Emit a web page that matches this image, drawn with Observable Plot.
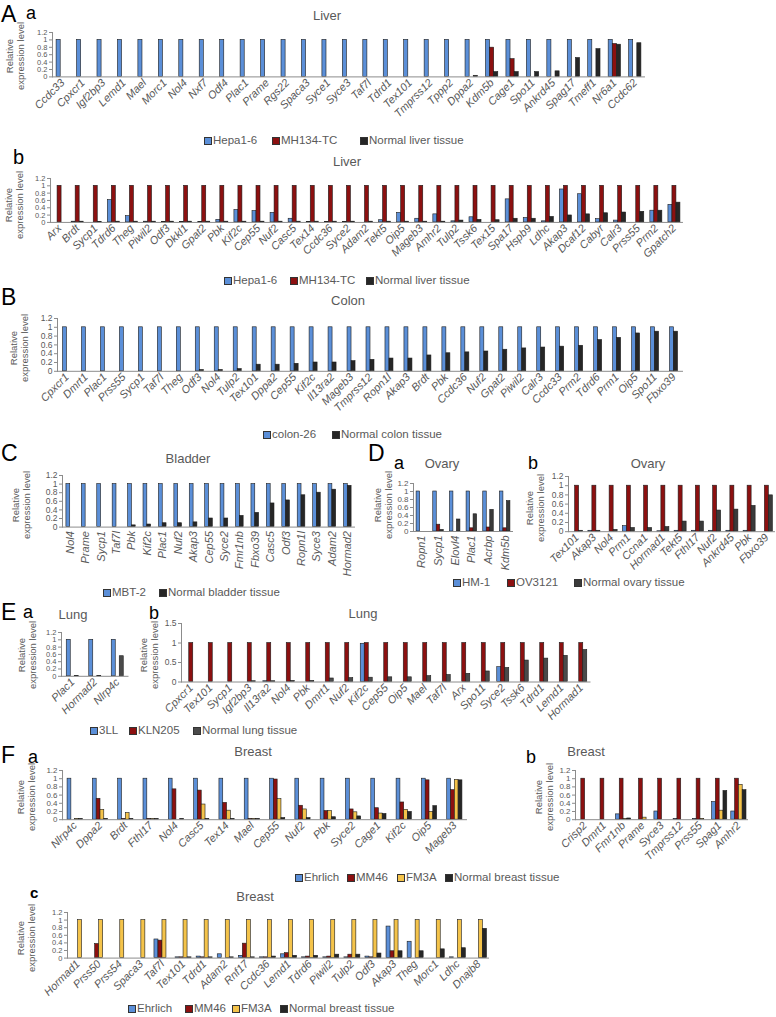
<!DOCTYPE html>
<html><head><meta charset="utf-8">
<script src="https://cdn.jsdelivr.net/npm/d3@7"></script>
<script src="https://cdn.jsdelivr.net/npm/@observablehq/plot@0.6"></script>
<style>
body{margin:0;background:#fff;}
#fig{position:relative;width:776px;height:1017px;overflow:hidden;font-family:"Liberation Sans",Arial,sans-serif;color:#595959;background:#fff;}
.abs{position:absolute;white-space:nowrap;line-height:1;}
#fig svg [aria-label="x-axis tick label"] text{font-style:italic;}
</style></head><body><div id="fig"></div>
<script>
// ---------- DATA ----------
const aaGenes = ["Ccdc33","Cpxcr1","Igf2bp3","Lemd1","Mael","Morc1","Nol4","Nxf7","Odf4","Plac1","Prame","Rgs22","Spaca3","Syce1","Syce3","Taf7l","Tdrd1","Tex101","Tmprss12","Tppp2","Dppa2","Kdm5b","Cage1","Spo11","Ankrd45","Spag17","Tmeff1","Nr6a1","Ccdc62"];
const aaHepa  = [1,1,1,1,1,1,1,1,1,1,1,1,1,1,1,1,1,1,1,1,1,1,1,1,1,1,1,1,1];
const aaMH134 = [0,0,0,0,0,0,0,0,0,0,0,0,0,0,0,0,0,0,0,0,0,0.79,0.48,0,0,0,0,0.89,0];
const aaNormal= [0,0,0,0,0,0,0,0,0,0,0,0,0,0,0,0,0,0,0,0,0.03,0.13,0.13,0.13,0.15,0.51,0.75,0.87,0.91];

const abGenes = ["Arx","Brdt","Sycp1","Tdrd6","Theg","Piwil2","Odf3","Dkkl1","Gpat2","Pbk","Kif2c","Cep55","Nuf2","Casc5","Tex14","Ccdc36","Syce2","Adam2","Tekt5","Oip5","Mageb3","Amhr2","Tulp2","Tssk6","Tex15","Spa17","Hspb9","Ldhc","Akap3","Dcaf12","Cabyr","Calr3","Prss55","Prm2","Gpatch2"];
const abHepa  = [0,0.02,0,0.61,0.17,0.02,0.01,0.01,0.01,0.07,0.34,0.31,0.26,0.1,0.01,0.01,0.01,0,0.06,0.26,0.1,0.22,0.03,0.14,0,0.63,0.12,0.03,0.9,0.77,0.09,0.05,0,0.32,0.48];
const abMH134 = [1,1,1,1,1,1,1,1,1,1,1,1,1,1,1,1,1,1,1,1,1,1,1,1,1,1,1,1,1,1,1,1,1,1,1];
const abNormal= [0,0.02,0.01,0.02,0.02,0.02,0.02,0.02,0.02,0.02,0.02,0.02,0.02,0.02,0.02,0.02,0.02,0.02,0.02,0.02,0.02,0.02,0.05,0.07,0.06,0.1,0.1,0.15,0.19,0.22,0.25,0.27,0.29,0.32,0.54];

const bGenes = ["Cpxcr1","Dmrt1","Plac1","Prss55","Sycp1","Taf7l","Theg","Odf3","Nol4","Tulp2","Tex101","Dppa2","Cep55","Kif2c","Il13ra2","Mageb3","Tmprss12","Ropn1l","Akap3","Brdt","Pbk","Ccdc36","Nuf2","Gpat2","Piwil2","Calr3","Ccdc33","Prm2","Tdrd6","Prm1","Oip5","Spo11","Fbxo39"];
const bColon26 = [1,1,1,1,1,1,1,1,1,1,1,1,1,1,1,1,1,1,1,1,1,1,1,1,1,1,1,1,1,1,1,1,1];
const bNormal  = [0,0,0,0,0,0,0,0.03,0.03,0.05,0.15,0.15,0.17,0.2,0.2,0.23,0.26,0.29,0.29,0.36,0.41,0.43,0.45,0.49,0.52,0.54,0.56,0.58,0.71,0.76,0.86,0.9,0.9];

const cGenes = ["Nol4","Prame","Sycp1","Taf7l","Pbk","Kif2c","Plac1","Nuf2","Akap3","Cep55","Syce2","Fmr1nb","Fbxo39","Casc5","Odf3","Ropn1l","Syce3","Adam2","Hormad2"];
const cMBT2   = [1,1,1,1,1,1,1,1,1,1,1,1,1,1,1,1,1,1,1];
const cNormal = [0,0,0,0,0.04,0.06,0.09,0.09,0.11,0.2,0.2,0.26,0.33,0.55,0.62,0.74,0.8,0.87,0.96];

const daGenes = ["Ropn1","Sycp1","Elovl4","Plac1","Acrbp","Kdm5b"];
const daHM1    = [1,1,1,1,1,1];
const daOV3121 = [0,0.17,0,0.08,0.1,0.08];
const daNormal = [0,0.04,0.3,0.43,0.54,0.76];

const dbGenes = ["Tex101","Akap3","Nol4","Prm1","Ccna1","Hormad1","Tekt5","Fthl17","Nuf2","Ankrd45","Pbk","Fbxo39"];
const dbHM1    = [0,0.02,0,0.12,0,0.01,0.02,0.02,0.02,0.02,0.02,0];
const dbOV3121 = [1,1,1,1,1,1,1,1,1,1,1,1];
const dbNormal = [0.02,0.02,0.04,0.08,0.08,0.1,0.22,0.22,0.46,0.48,0.56,0.79];

const eaGenes = ["Plac1","Hormad2","Nlrp4c"];
const ea3LL    = [1,1,1];
const eaKLN205 = [0,0,0];
const eaNormal = [0.01,0.01,0.55];

const ebGenes = ["Cpxcr1","Tex101","Sycp1","Igf2bp3","Il13ra2","Nol4","Pbk","Dmrt1","Nuf2","Kif2c","Cep55","Oip5","Mael","Taf7l","Arx","Spo11","Syce2","Tssk6","Tdrd1","Lemd1","Hormad1"];
const eb3LL    = [0,0,0,0,0.02,0,0,0,0,0.98,0,0,0,0,0,0,0.38,0,0,0,0];
const ebKLN205 = [1,1,1,1,1,1,1,1,1,1,1,1,1,1,1,1,1,1,1,1,1];
const ebNormal = [0,0,0,0.02,0.02,0.03,0.03,0.09,0.1,0.11,0.12,0.12,0.15,0.18,0.21,0.27,0.36,0.55,0.6,0.67,0.82];

const faGenes = ["Nlrp4c","Dppa2","Brdt","Fthl17","Nol4","Casc5","Tex14","Mael","Cep55","Nuf2","Pbk","Syce2","Cage1","Kif2c","Oip5","Mageb3"];
const faEhrlich = [1,1,1,1,1,1,1,1,1,1,1,1,1,1,1,1];
const faMM46    = [0,0.51,0.02,0.02,0.74,0.71,0.41,0.02,0.98,0.34,0.21,0.25,0.28,0.42,0.96,0.72];
const faFM3A    = [0.02,0.24,0.16,0.02,0,0.37,0.22,0.02,0.5,0.25,0.21,0.18,0.15,0.24,0.19,0.97];
const faNormal  = [0.02,0.02,0.02,0.02,0.02,0.02,0.02,0.02,0.04,0.04,0.06,0.08,0.14,0.19,0.33,0.96];

const fbGenes = ["Crisp2","Dmrt1","Fmr1nb","Prame","Syce3","Tmprss12","Prss55","Spag1","Amhr2"];
const fbEhrlich = [0,0,0.13,0,0.2,0.02,0.02,0.43,0.2];
const fbMM46    = [1,1,1,1,1,1,1,1,1];
const fbFM3A    = [0,0,0.02,0.05,0,0,0.02,0.22,0.85];
const fbNormal  = [0,0,0.03,0,0,0,0,0.7,0.72];

const fcGenes = ["Hormad1","Prss50","Prss54","Spaca3","Taf7l","Tex101","Tdrd1","Adam2","Rnf17","Ccdc36","Lemd1","Tdrd6","Piwil2","Tulp2","Odf3","Akap3","Theg","Morc1","Ldhc","Dnajb8"];
const fcEhrlich = [0,0,0,0,0.49,0.02,0.04,0.1,0.06,0.02,0.1,0.02,0.02,0.02,0.04,0.83,0.43,0,0.02,0];
const fcMM46    = [0,0.37,0,0,0.46,0.02,0.02,0,0.38,0.02,0.13,0.04,0.04,0.09,0.02,0.18,0,0,0,0];
const fcFM3A    = [1,1,1,1,1,1,1,1,1,1,1,1,1,1,1,1,1,1,1,1];
const fcNormal  = [0,0,0,0,0,0.02,0.02,0.02,0.02,0.04,0.06,0.06,0.09,0.09,0.12,0.18,0.18,0.23,0.26,0.77];

const ticks12 = [0,0.2,0.4,0.6,0.8,1,1.2];
const ticks15 = [0,0.5,1,1.5];

// ---------- STYLE ----------
const FONT = '"Liberation Sans", Arial, sans-serif';
const GRAY = "#595959";
const AXIS = "#8c8c8c";
const BLUE = "#5b8fd8", RED = "#8c1010", BLACK = "#262626", YELLOW = "#f4c34a";
const LUNGN = "#4a4a4a", OVN = "#3a3a3a";
const fig = document.getElementById("fig");

function text(t, x, y, o = {}) {
  const d = document.createElement("div");
  d.className = "abs";
  if (o.html) d.innerHTML = t; else d.textContent = t;
  d.style.left = x + "px"; d.style.top = y + "px";
  d.style.fontSize = (o.size || 12) + "px";
  d.style.color = o.color || GRAY;
  if (o.weight) d.style.fontWeight = o.weight;
  if (o.lh) d.style.lineHeight = o.lh;
  d.style.textAlign = "center";
  const tr = o.left ? "translate(0,-50%)" : "translate(-50%,-50%)";
  d.style.transform = tr + (o.rotate ? ` rotate(${o.rotate}deg)` : "");
  fig.appendChild(d);
}
function letter(t, x, y, size, weight) { text(t, x, y, {size, color: "#000", left: true, weight}); }
function ylabel(x, y) { text("Relative<br>expression level", x, y, {html: true, size: 9.5, rotate: -90, lh: "1.15"}); }
function legend(y, items) {
  for (const [label, color, x] of items) {
    const sq = document.createElement("div");
    sq.className = "abs";
    Object.assign(sq.style, {left: x + "px", top: (y - 4) + "px", width: "6px", height: "6px", background: color, border: "1px solid #333"});
    fig.appendChild(sq);
    text(label, x + 9, y, {size: 11.5, left: true});
  }
}

function panel(cfg) {
  const {genes, series, colors, axisX0, axisX1, y0, y1, yMax = 1.2, yTicks = ticks12, rotate = -45, barW = 4, fs = 11, tfs = 8.5} = cfg;
  const unit = y0 - y1;
  const mt = 8, mb = 90, ml = 30, mr = 8;
  const frameH = yMax * unit;
  const top = y0 - frameH - mt;
  const left = axisX0 - ml;
  const width = ml + (axisX1 - axisX0) + mr;
  const height = mt + frameH + mb;
  const n = genes.length, m = series.length, s = (axisX1 - axisX0) / n;
  const marks = [];
  series.forEach((vals, k) => {
    const data = genes.map((g, i) => ({gene: g, value: vals[i]})).filter(d => d.value > 0);
    const il = (s - m * barW) / 2 + k * barW;
    marks.push(Plot.barY(data, {x: "gene", y: "value", fill: colors[k], stroke: "#1c1c1c", strokeWidth: 0.6,
      insetLeft: il, insetRight: s - il - barW}));
  });
  marks.push(Plot.ruleY([0], {stroke: AXIS, strokeWidth: 1}));
  marks.push(Plot.frame({anchor: "left", stroke: AXIS}));
  marks.push(Plot.axisY({ticks: yTicks, tickSize: 3, tickPadding: 2, tickFormat: d => String(d), fontSize: tfs, stroke: AXIS, label: null}));
  marks.push(Plot.axisX({tickSize: 0, tickPadding: 4, tickRotate: rotate, fontSize: fs, label: null}));
  const svg = Plot.plot({
    width, height, marginLeft: ml, marginRight: mr, marginTop: mt, marginBottom: mb,
    x: {type: "band", domain: genes, paddingInner: 0, paddingOuter: 0, round: false, label: null},
    y: {domain: [0, yMax], label: null},
    style: {background: "transparent", fontFamily: FONT, color: GRAY, overflow: "visible", maxWidth: "none"},
    marks
  });
  svg.style.position = "absolute";
  svg.style.left = left + "px";
  svg.style.top = top + "px";
  fig.appendChild(svg);
}

// ---------- A ----------
letter("A", 1, 14, 23);
letter("a", 26, 13, 18);
text("Liver", 327, 15, {size: 13});
ylabel(16, 56);
panel({genes: aaGenes, series: [aaHepa, aaMH134, aaNormal], colors: [BLUE, RED, BLACK], axisX0: 52, axisX1: 645, y0: 76.5, y1: 39.5, barW: 4.1, tfs: 7.5});
legend(141, [["Hepa1-6", BLUE, 204], ["MH134-TC", RED, 272], ["Normal liver tissue", BLACK, 360]]);

letter("b", 13, 157, 20);
text("Liver", 347, 161, {size: 13});
ylabel(15, 205);
panel({genes: abGenes, series: [abHepa, abMH134, abNormal], colors: [BLUE, RED, BLACK], axisX0: 50, axisX1: 683, y0: 222.3, y1: 185.7, barW: 4, tfs: 7.5});
legend(281, [["Hepa1-6", BLUE, 224], ["MH134-TC", RED, 290], ["Normal liver tissue", BLACK, 366]]);

// ---------- B ----------
letter("B", 1, 297, 23);
text("Colon", 348, 300, {size: 13});
ylabel(20, 348);
panel({genes: bGenes, series: [bColon26, bNormal], colors: [BLUE, BLACK], axisX0: 57, axisX1: 683, y0: 371, y1: 327, barW: 4});
legend(435, [["colon-26", BLUE, 263], ["Normal colon tissue", BLACK, 332]]);

// ---------- C ----------
letter("C", 1, 453, 23);
text("Bladder", 188, 458, {size: 13});
ylabel(22, 505);
panel({genes: cGenes, series: [cMBT2, cNormal], colors: [BLUE, BLACK], axisX0: 62, axisX1: 355, y0: 527, y1: 484, rotate: -90, barW: 3.8});
legend(593, [["MBT-2", BLUE, 103], ["Normal bladder tissue", BLACK, 159]]);

// ---------- D ----------
letter("D", 368, 453, 23);
letter("a", 394, 463, 18);
text("Ovary", 442, 463, {size: 13});
ylabel(384, 505);
panel({genes: daGenes, series: [daHM1, daOV3121, daNormal], colors: [BLUE, RED, OVN], axisX0: 413, axisX1: 513, y0: 531, y1: 491, rotate: -90, barW: 3.5, tfs: 8});
letter("b", 528, 463, 18);
text("Ovary", 648, 463, {size: 13});
ylabel(536, 508);
panel({genes: dbGenes, series: [dbHM1, dbOV3121, dbNormal], colors: [BLUE, RED, OVN], axisX0: 568, axisX1: 775, y0: 531, y1: 485, barW: 4});
legend(583, [["HM-1", BLUE, 453], ["OV3121", RED, 507], ["Normal ovary tissue", OVN, 574]]);

// ---------- E ----------
letter("E", 1, 612, 23);
letter("a", 23, 612, 18);
text("Lung", 73, 614, {size: 13});
ylabel(28, 655);
panel({genes: eaGenes, series: [ea3LL, eaKLN205, eaNormal], colors: [BLUE, RED, LUNGN], axisX0: 61, axisX1: 128.5, y0: 675.5, y1: 639, barW: 4, tfs: 7.5});
letter("b", 149, 613, 18);
text("Lung", 363, 613, {size: 13});
ylabel(150, 655);
panel({genes: ebGenes, series: [eb3LL, ebKLN205, ebNormal], colors: [BLUE, RED, LUNGN], axisX0: 181, axisX1: 590.5, y0: 681, y1: 642, yMax: 1.5, yTicks: ticks15, barW: 4});
legend(731, [["3LL", BLUE, 90], ["KLN205", RED, 129], ["Normal lung tissue", LUNGN, 193]]);

// ---------- F ----------
letter("F", 1, 755, 23);
letter("a", 28, 757, 18);
text("Breast", 253, 751, {size: 13});
ylabel(27, 797);
panel({genes: faGenes, series: [faEhrlich, faMM46, faFM3A, faNormal], colors: [BLUE, RED, YELLOW, BLACK], axisX0: 62, axisX1: 467, y0: 819, y1: 778, barW: 3.8, tfs: 8});
letter("b", 526, 757, 18);
text("Breast", 586, 751, {size: 13});
ylabel(545, 797);
panel({genes: fbGenes, series: [fbEhrlich, fbMM46, fbFM3A, fbNormal], colors: [BLUE, RED, YELLOW, BLACK], axisX0: 575, axisX1: 748, y0: 819, y1: 778, barW: 3.8, tfs: 8});
legend(878, [["Ehrlich", BLUE, 295], ["MM46", RED, 347], ["FM3A", YELLOW, 397], ["Normal breast tissue", BLACK, 445]]);

letter("c", 30, 892, 15, "bold");
text("Breast", 255, 896, {size: 13});
ylabel(27, 938);
panel({genes: fcGenes, series: [fcEhrlich, fcMM46, fcFM3A, fcNormal], colors: [BLUE, RED, YELLOW, BLACK], axisX0: 67, axisX1: 489, y0: 958, y1: 920, barW: 4, tfs: 7.5});
legend(1009, [["Ehrlich", BLUE, 128], ["MM46", RED, 185], ["FM3A", YELLOW, 232], ["Normal breast tissue", BLACK, 280]]);
</script></body></html>
